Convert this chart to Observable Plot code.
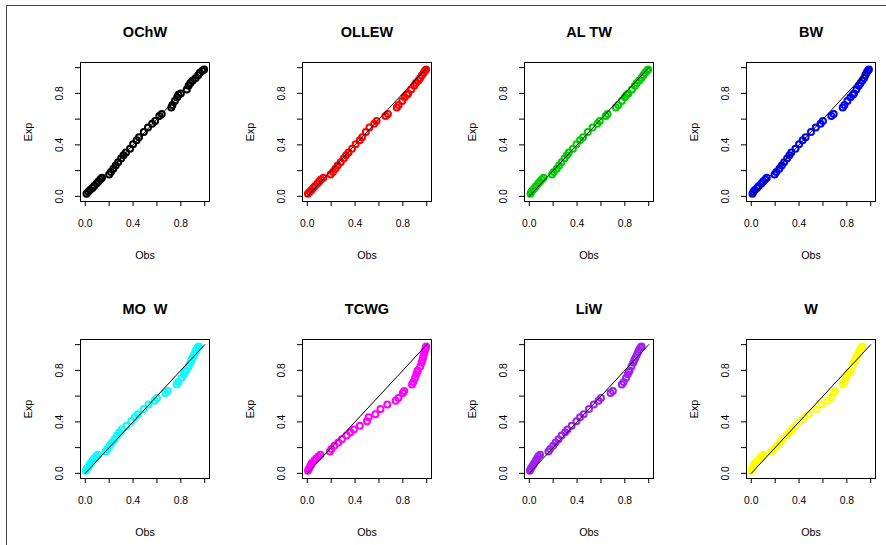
<!DOCTYPE html>
<html>
<head>
<meta charset="utf-8">
<script src="https://cdn.jsdelivr.net/npm/d3@7"></script>
<script src="https://cdn.jsdelivr.net/npm/@observablehq/plot@0.6"></script>
<style>
  html, body { margin: 0; padding: 0; background: #fff; }
  #wrap { position: relative; width: 886px; height: 545px; overflow: hidden; background: #fff; }
  #border { position: absolute; left: 6px; top: 5px; width: 900px; height: 600px; border-top: 1px solid #444; border-left: 1px solid #444; }
  .panel { position: absolute; width: 222px; height: 277px; }
  .panel svg { max-width: none !important; display: block; }
  .panel svg text { white-space: pre; }
</style>
</head>
<body>
<div id="wrap"><div id="border"></div></div>
<script>
// Panel titles and colours
const titles = ["OChW", "OLLEW", "AL TW", "BW", "MO  W", "TCWG", "LiW", "W"];
const colors = ["#000000", "#FF0000", "#00CD00", "#0000FF", "#00FFFF", "#FF00FF", "#A020F0", "#FFFF00"];

// Axis ticks
const tickValues = [0, 0.2, 0.4, 0.6, 0.8, 1.0];
const tickLabels = ["0.0", "", "0.4", "", "0.8", ""];

// Common expected probabilities (y axis)
const expP = [0.020, 0.035, 0.050, 0.065, 0.080, 0.100, 0.115, 0.130, 0.145,
  0.170, 0.190, 0.215, 0.240, 0.265, 0.295, 0.320, 0.340, 0.370, 0.405,
  0.435, 0.460, 0.500, 0.535, 0.565, 0.585, 0.625, 0.640,
  0.690, 0.710, 0.740, 0.770, 0.790, 0.800, 0.830, 0.860, 0.880, 0.900,
  0.920, 0.940, 0.960, 0.975, 0.985];

// Observed probabilities (x axis), one list per model
const obsOChW = [0.010, 0.025, 0.040, 0.060, 0.075, 0.095, 0.110, 0.125, 0.140,
  0.200, 0.215, 0.235, 0.255, 0.275, 0.300, 0.320, 0.340, 0.375, 0.400,
  0.430, 0.450, 0.490, 0.525, 0.560, 0.585, 0.620, 0.640,
  0.720, 0.730, 0.750, 0.770, 0.780, 0.800, 0.850, 0.865, 0.880, 0.900,
  0.925, 0.945, 0.960, 0.980, 0.995];
const obsOLLEW = [0.005, 0.020, 0.035, 0.050, 0.065, 0.085, 0.100, 0.115, 0.135,
  0.195, 0.215, 0.235, 0.255, 0.280, 0.305, 0.325, 0.345, 0.375, 0.405,
  0.440, 0.460, 0.490, 0.520, 0.560, 0.580, 0.655, 0.675,
  0.750, 0.765, 0.795, 0.815, 0.835, 0.845, 0.870, 0.895, 0.910, 0.930,
  0.945, 0.960, 0.975, 0.985, 0.995];
const obsALTW = [0.010, 0.018, 0.030, 0.045, 0.058, 0.075, 0.090, 0.105, 0.120,
  0.190, 0.205, 0.230, 0.250, 0.270, 0.295, 0.315, 0.330, 0.365, 0.395,
  0.425, 0.450, 0.490, 0.530, 0.570, 0.590, 0.640, 0.655,
  0.725, 0.745, 0.775, 0.800, 0.815, 0.830, 0.860, 0.885, 0.900, 0.920,
  0.940, 0.955, 0.970, 0.985, 0.995];
const obsBW = [0.010, 0.018, 0.030, 0.048, 0.063, 0.085, 0.100, 0.115, 0.130,
  0.195, 0.210, 0.235, 0.255, 0.275, 0.300, 0.320, 0.335, 0.370, 0.400,
  0.430, 0.455, 0.500, 0.540, 0.580, 0.600, 0.670, 0.690,
  0.765, 0.780, 0.805, 0.830, 0.850, 0.860, 0.880, 0.900, 0.915, 0.930,
  0.945, 0.955, 0.965, 0.975, 0.985];
const obsMOW = [0.005, 0.013, 0.025, 0.035, 0.045, 0.060, 0.075, 0.090, 0.105,
  0.170, 0.185, 0.205, 0.225, 0.245, 0.265, 0.285, 0.305, 0.345, 0.385,
  0.415, 0.440, 0.490, 0.530, 0.580, 0.600, 0.670, 0.690,
  0.765, 0.780, 0.805, 0.825, 0.835, 0.845, 0.865, 0.880, 0.890, 0.900,
  0.910, 0.920, 0.930, 0.940, 0.950];
const obsTCWG = [0.006, 0.014, 0.022, 0.030, 0.038, 0.058, 0.075, 0.092, 0.110,
  0.190, 0.202, 0.227, 0.260, 0.290, 0.330, 0.362, 0.390, 0.440, 0.500,
  0.514, 0.570, 0.613, 0.670, 0.740, 0.763, 0.800, 0.812,
  0.877, 0.888, 0.902, 0.913, 0.921, 0.925, 0.946, 0.957, 0.964, 0.969,
  0.975, 0.981, 0.987, 0.992, 0.996];
const obsLiW = [0.005, 0.012, 0.022, 0.032, 0.042, 0.055, 0.065, 0.075, 0.090,
  0.160, 0.175, 0.200, 0.220, 0.245, 0.270, 0.300, 0.320, 0.355, 0.395,
  0.425, 0.455, 0.500, 0.540, 0.580, 0.600, 0.680, 0.700,
  0.775, 0.790, 0.810, 0.825, 0.835, 0.840, 0.855, 0.870, 0.880, 0.890,
  0.900, 0.910, 0.920, 0.930, 0.940];
const obsW = [0.000, 0.006, 0.014, 0.022, 0.030, 0.055, 0.070, 0.085, 0.100,
  0.170, 0.190, 0.215, 0.240, 0.260, 0.295, 0.320, 0.340, 0.370, 0.405,
  0.445, 0.480, 0.545, 0.586, 0.640, 0.665, 0.690, 0.700,
  0.765, 0.780, 0.795, 0.810, 0.825, 0.830, 0.845, 0.860, 0.870, 0.880,
  0.890, 0.900, 0.910, 0.920, 0.930];

const obsSeries = [obsOChW, obsOLLEW, obsALTW, obsBW, obsMOW, obsTCWG, obsLiW, obsW];
const refLine = [0, 1];

const font = "'Liberation Sans', Arial, Helvetica, sans-serif";
const wrap = document.getElementById("wrap");
const yLabelTicks = tickValues.filter((d, i) => tickLabels[i] !== "");

obsSeries.forEach((obs, k) => {
  const row = Math.floor(k / 4), col = k % 4;
  const data = obs.map((x, i) => ({obs: x, exp: expP[i]}));
  const chart = Plot.plot({
    width: 222,
    height: 277,
    marginLeft: 80,
    marginRight: 13,
    marginTop: 62,
    marginBottom: 76,
    x: {domain: [-0.04, 1.04]},
    y: {domain: [-0.04, 1.04]},
    style: {fontFamily: font, background: "transparent", overflow: "visible", color: "#000"},
    marks: [
      Plot.axisX({ticks: tickValues, tickSize: 5, tickPadding: 13, fontSize: 10.3, label: null,
        tickFormat: d => tickLabels[tickValues.indexOf(d)] ?? "", stroke: "#000", fill: "#000"}),
      Plot.axisY({ticks: tickValues, tickSize: 5, label: null, tickFormat: () => "", stroke: "#000"}),
      Plot.text(yLabelTicks, {y: d => d, frameAnchor: "left", dx: -21, rotate: -90,
        text: d => tickLabels[tickValues.indexOf(d)], fontSize: 10.3, textAnchor: "middle", lineAnchor: "middle", fill: "#000"}),
      Plot.dot(data, {x: "obs", y: "exp", r: 3, stroke: colors[k], strokeWidth: 2, fill: "none"}),
      Plot.line(refLine, {x: d => d, y: d => d, stroke: "#000", strokeWidth: 1}),
      Plot.frame({stroke: "#000", strokeWidth: 1}),
      Plot.text([titles[k]], {frameAnchor: "top", dy: -30, fontWeight: "bold", fontSize: 14.5,
        textAnchor: "middle", lineAnchor: "middle", fill: "#000"}),
      Plot.text(["Exp"], {frameAnchor: "left", dx: -52, rotate: -90, fontSize: 10.7,
        textAnchor: "middle", lineAnchor: "middle", fill: "#000"}),
      Plot.text(["Obs"], {frameAnchor: "bottom", dy: 54, fontSize: 10.7,
        textAnchor: "middle", lineAnchor: "middle", fill: "#000"})
    ]
  });
  const holder = document.createElement("div");
  holder.className = "panel";
  holder.style.left = (222 * col) + "px";
  holder.style.top = (277 * row) + "px";
  holder.appendChild(chart);
  wrap.appendChild(holder);
});
</script>
</body>
</html>
